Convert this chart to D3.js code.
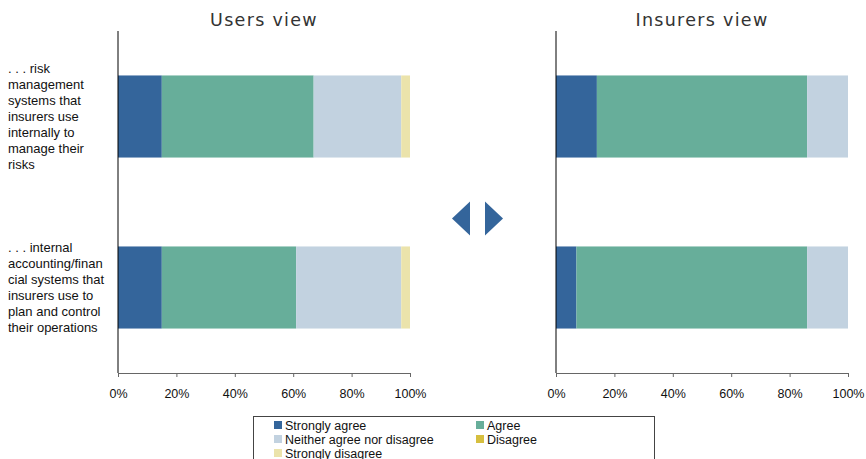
<!DOCTYPE html>
<html>
<head>
<meta charset="utf-8">
<script src="https://cdn.jsdelivr.net/npm/d3@7"></script>
<style>
  html, body { margin: 0; padding: 0; background: #fff; }
  svg { display: block; }
</style>
</head>
<body>
<svg id="chart" width="866" height="459"></svg>
<script>
// Survey response categories (stack order, left to right)
const responses = ["Strongly agree", "Agree", "Neither agree nor disagree", "Disagree", "Strongly disagree"];
const responseColors = ["#34659b", "#67ae9a", "#c2d2e0", "#d6bf3f", "#ebe3ab"];

// Statements being rated (wrapped lines as shown)
const statements = ["risk", "accounting"];
const statementLines = [
  [". . . risk", "management", "systems that", "insurers use", "internally to", "manage their", "risks"],
  [". . . internal", "accounting/finan", "cial systems that", "insurers use to", "plan and control", "their operations"]
];

// Percent of respondents per response, per statement
const usersView = [
  [15, 52, 30, 0, 3],
  [15, 46, 36, 0, 3]
];
const insurersView = [
  [14, 72, 14, 0, 0],
  [7, 79, 14, 0, 0]
];

const xTicks = [0, 20, 40, 60, 80, 100];

const svg = d3.select("#chart");
const fontSans = "'Liberation Sans', Arial, sans-serif";

const y = d3.scaleBand()
  .domain(statements)
  .range([31, 373])
  .paddingInner(0.52)
  .paddingOuter(0.26);

function panel(x0, title, data) {
  const x = d3.scaleLinear().domain([0, 100]).range([x0, x0 + 292]);
  const g = svg.append("g");

  // title
  g.append("text")
    .attr("x", (x.range()[0] + x.range()[1]) / 2)
    .attr("y", 26)
    .attr("text-anchor", "middle")
    .attr("font-family", "'DejaVu Sans', Verdana, sans-serif")
    .attr("font-size", 17.5)
    .attr("letter-spacing", 1.3)
    .attr("fill", "#333")
    .text(title);

  // stacked bars
  data.forEach((row, i) => {
    let cum = 0;
    row.forEach((v, k) => {
      if (v > 0) {
        g.append("rect")
          .attr("x", x(cum))
          .attr("y", y(statements[i]))
          .attr("width", x(cum + v) - x(cum))
          .attr("height", y.bandwidth())
          .attr("fill", responseColors[k]);
      }
      cum += v;
    });
  });

  // bottom axis
  const axis = d3.axisBottom(x)
    .tickValues(xTicks)
    .tickFormat(d => d + "%")
    .tickSize(4)
    .tickPadding(12);
  const ax = g.append("g")
    .attr("transform", "translate(0,373)")
    .call(axis);
  ax.select(".domain").attr("stroke", "#666");
  ax.selectAll(".tick line").attr("stroke", "#666");
  ax.selectAll(".tick text")
    .attr("font-family", fontSans)
    .attr("font-size", 12.5)
    .attr("fill", "#111");

  // vertical category axis
  g.append("line")
    .attr("x1", x0).attr("x2", x0)
    .attr("y1", 31).attr("y2", 373)
    .attr("stroke", "#000")
    .attr("stroke-width", 1);
}

panel(118, "Users view", usersView);
panel(556, "Insurers view", insurersView);

// category labels
statementLines.forEach((lines, i) => {
  const cy = y(statements[i]) + y.bandwidth() / 2;
  const lh = 16;
  const t = svg.append("text")
    .attr("font-family", fontSans)
    .attr("font-size", 13)
    .attr("fill", "#111");
  lines.forEach((ln, j) => {
    t.append("tspan")
      .attr("x", 8)
      .attr("y", cy + (j - (lines.length - 1) / 2) * lh + 4.5)
      .text(ln);
  });
});

// comparison arrows between the two panels
const arrowY = 218.5;
svg.append("path")
  .attr("d", `M452,${arrowY} L470,${arrowY - 17} L470,${arrowY + 17} Z`)
  .attr("fill", "#34659b");
svg.append("path")
  .attr("d", `M485,${arrowY - 17} L503,${arrowY} L485,${arrowY + 17} Z`)
  .attr("fill", "#34659b");

// legend
const legend = svg.append("g");
legend.append("rect")
  .attr("x", 253.5).attr("y", 416.5)
  .attr("width", 401).attr("height", 60)
  .attr("fill", "#fff")
  .attr("stroke", "#444");
const legendPos = [
  [274, 425], [476, 425],
  [274, 439], [476, 439],
  [274, 453]
];
responses.forEach((r, k) => {
  const [lx, ly] = legendPos[k];
  legend.append("rect")
    .attr("x", lx).attr("y", ly - 4)
    .attr("width", 8).attr("height", 8)
    .attr("fill", responseColors[k]);
  legend.append("text")
    .attr("x", lx + 11)
    .attr("y", ly + 4.5)
    .attr("font-family", fontSans)
    .attr("font-size", 12.5)
    .attr("fill", "#111")
    .text(r);
});
</script>
</body>
</html>
